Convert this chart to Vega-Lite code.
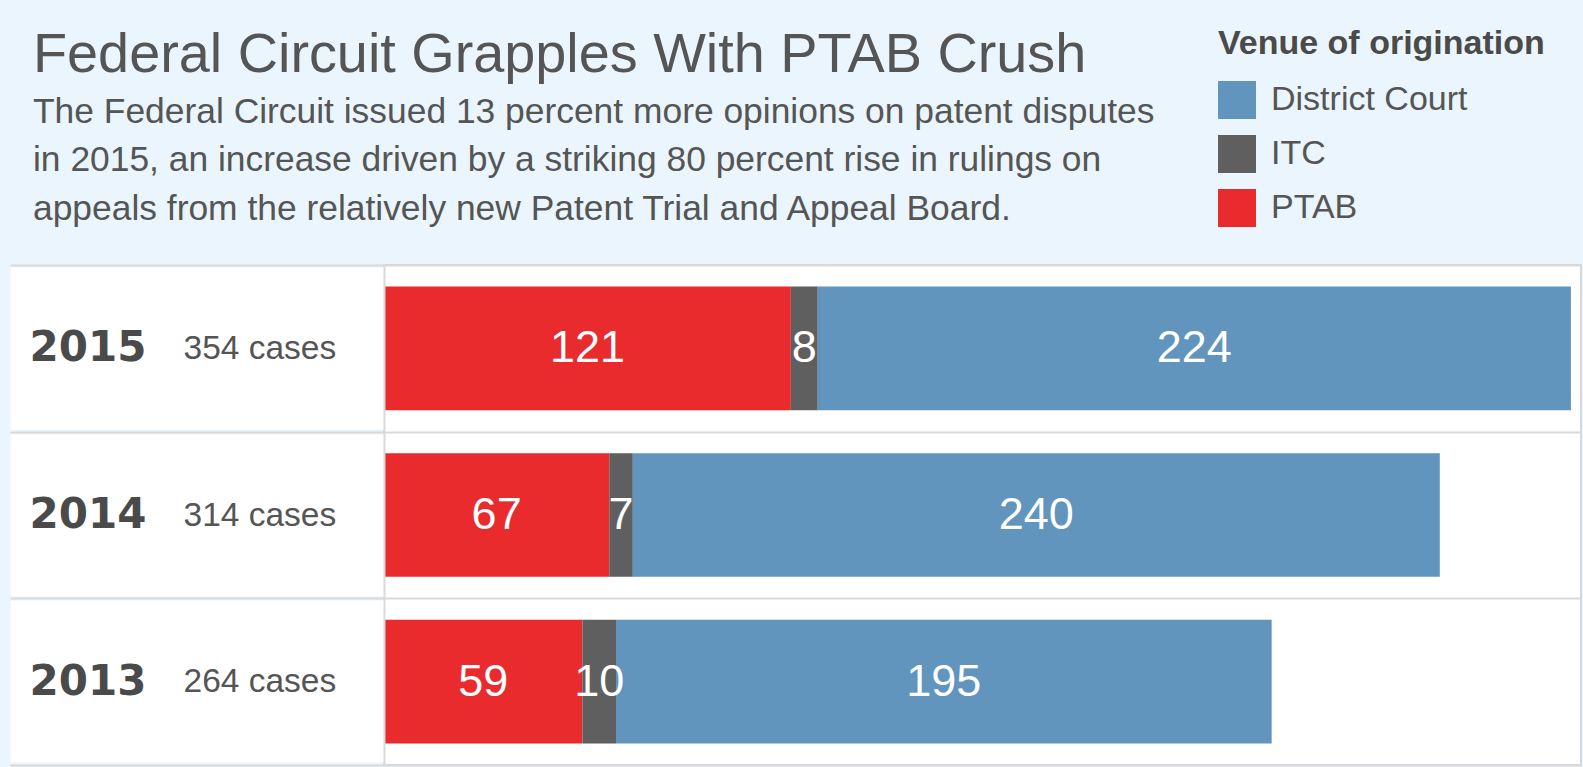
{
  "$schema": "https://vega.github.io/schema/vega-lite/v6.json",
  "autosize": "none",
  "width": 1197,
  "height": 500,
  "padding": {"left": 384, "top": 265, "right": 2, "bottom": 2},
  "background": "#EAF5FD",
  "title": {
    "text": "Federal Circuit Grapples With PTAB Crush",
    "subtitle": [
      "The Federal Circuit issued 13 percent more opinions on patent disputes",
      "in 2015, an increase driven by a striking 80 percent rise in rulings on",
      "appeals from the relatively new Patent Trial and Appeal Board."
    ],
    "anchor": "start",
    "frame": "bounds",
    "font": "Liberation Sans",
    "fontSize": 55.8,
    "fontWeight": "normal",
    "color": "#555555",
    "subtitleFont": "Liberation Sans",
    "subtitleFontSize": 35.4,
    "subtitleColor": "#555555",
    "subtitleLineHeight": 48.5,
    "subtitlePadding": 11,
    "offset": 36,
    "dx": 104,
    "dy": 237
  },
  "data": {
    "values": [
      {"year": "2015", "cases": "354 cases", "venue": "PTAB", "n": 121},
      {"year": "2015", "cases": "354 cases", "venue": "ITC", "n": 8},
      {"year": "2015", "cases": "354 cases", "venue": "District Court", "n": 224},
      {"year": "2014", "cases": "314 cases", "venue": "PTAB", "n": 67},
      {"year": "2014", "cases": "314 cases", "venue": "ITC", "n": 7},
      {"year": "2014", "cases": "314 cases", "venue": "District Court", "n": 240},
      {"year": "2013", "cases": "264 cases", "venue": "PTAB", "n": 59},
      {"year": "2013", "cases": "264 cases", "venue": "ITC", "n": 10},
      {"year": "2013", "cases": "264 cases", "venue": "District Court", "n": 195}
    ]
  },
  "config": {"view": {"fill": "white", "stroke": "#d9d9d9", "strokeWidth": 2}},
  "layer": [
    {
      "mark": {"type": "bar", "height": {"band": 0.742}},
      "encoding": {
        "y": {
          "field": "year", "type": "nominal", "sort": "descending",
          "scale": {"paddingInner": 0, "paddingOuter": 0},
          "axis": {
            "orient": "left", "title": null, "domain": false, "grid": false,
            "ticks": true, "tickColor": "white", "tickWidth": 162, "tickSize": 374,
            "labelFont": "DejaVu Sans", "labelFontWeight": "bold", "labelFontSize": 42,
            "labelColor": "#4a4a4a", "labelAlign": "left", "labelBaseline": "middle",
            "labelPadding": -19, "zindex": 0
          }
        },
        "x": {"field": "n", "type": "quantitative", "stack": "zero", "scale": {"domain": [0, 356]}, "axis": null},
        "color": {
          "field": "venue", "type": "nominal",
          "scale": {"domain": ["District Court", "ITC", "PTAB"], "range": ["#6195bd", "#5f5f5f", "#e92b2d"]},
          "legend": {
            "orient": "none", "legendX": 834, "legendY": -238,
            "title": "Venue of origination",
            "titleFont": "Liberation Sans", "titleFontWeight": "bold", "titleFontSize": 34, "titleColor": "#4a4a4a",
            "titlePadding": 20, "titleLimit": 600,
            "labelFont": "Liberation Sans", "labelFontSize": 34, "labelColor": "#555555", "labelLimit": 500,
            "labelOffset": 15, "symbolType": "square", "symbolSize": 1444, "symbolStrokeWidth": 0,
            "symbolOpacity": 1, "rowPadding": 16, "padding": 0
          }
        },
        "order": {"field": "venue", "sort": "descending"}
      }
    },
    {
      "mark": {"type": "text", "color": "white", "font": "Liberation Sans", "fontSize": 45, "baseline": "middle", "align": "center"},
      "encoding": {
        "y": {
          "field": "cases", "type": "nominal", "sort": "descending",
          "scale": {"paddingInner": 0, "paddingOuter": 0},
          "axis": {
            "orient": "left", "title": null,
            "domain": true, "domainColor": "#d9d9d9", "domainWidth": 2,
            "grid": true, "gridColor": "#d9d9d9", "gridWidth": 2,
            "ticks": true, "tickBand": "extent", "tickColor": "#d9d9d9", "tickWidth": 2, "tickSize": 374,
            "labelFont": "Liberation Sans", "labelFontSize": 33.5, "labelColor": "#555555",
            "labelAlign": "left", "labelBaseline": "middle", "labelPadding": -173, "zindex": 1
          }
        },
        "x": {"field": "n", "type": "quantitative", "stack": "zero", "bandPosition": 0.5, "scale": {"domain": [0, 356]}, "axis": null},
        "text": {"field": "n", "type": "quantitative"},
        "detail": {"field": "venue"},
        "order": {"field": "venue", "sort": "descending"}
      }
    }
  ],
  "resolve": {"scale": {"y": "independent"}}
}
